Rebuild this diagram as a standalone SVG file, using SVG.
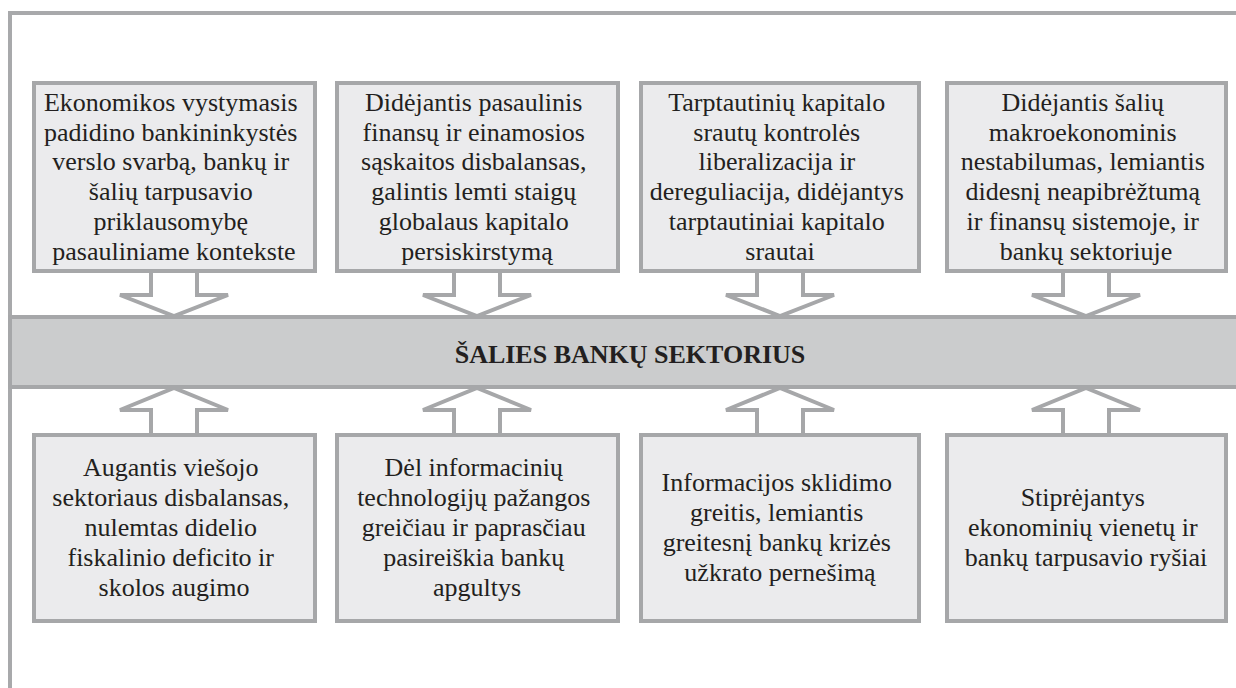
<svg xmlns="http://www.w3.org/2000/svg" width="1236" height="688" viewBox="0 0 1236 688">
  <style>
    .frame { fill: none; stroke: #a8a9ab; stroke-width: 4; }
    .box { fill: #ebebed; stroke: #a6a7a9; stroke-width: 4; }
    .band { fill: #cbcccd; stroke: #a6a7a9; stroke-width: 4; }
    .arrow { fill: #ffffff; stroke: #a6a7a9; stroke-width: 4; stroke-linejoin: miter; }
    .t { font-family: "Liberation Serif", "Times New Roman", serif; font-size: 26px; fill: #231f20; text-anchor: middle; }
    .title { font-family: "Liberation Serif", "Times New Roman", serif; font-size: 26px; font-weight: bold; fill: #231f20; text-anchor: middle; }
  </style>

  <rect width="1236" height="688" fill="#ffffff"/>
  <!-- outer frame, open past the right and bottom edges -->
  <rect class="frame" x="10" y="13" width="1300" height="720"/>

  <!-- hollow block arrows -->
  <g id="connectors">
    <polyline class="arrow" points="151,270 151,295 120,295 174,316 228,295 197,295 197,270"/>
    <polyline class="arrow" points="454,270 454,295 423,295 477,316 531,295 500,295 500,270"/>
    <polyline class="arrow" points="757,270 757,295 726,295 780,316 834,295 803,295 803,270"/>
    <polyline class="arrow" points="1063,270 1063,295 1032,295 1086,316 1140,295 1109,295 1109,270"/>

    <polyline class="arrow" points="151,436 151,410 120,410 174,388 228,410 197,410 197,436"/>
    <polyline class="arrow" points="454,436 454,410 423,410 477,388 531,410 500,410 500,436"/>
    <polyline class="arrow" points="757,436 757,410 726,410 780,388 834,410 803,410 803,436"/>
    <polyline class="arrow" points="1063,436 1063,410 1032,410 1086,388 1140,410 1109,410 1109,436"/>
  </g>

  <g id="sector">
    <rect class="band" x="10" y="317" width="1240" height="70"/>
    <text class="title" x="630" y="363">ŠALIES BANKŲ SEKTORIUS</text>
  </g>

  <g id="factor-1">
    <rect class="box" x="34" y="83" width="281" height="188"/>
    <text class="t" x="174" y="111">
      <tspan x="174">Ekonomikos vystymasis</tspan>
      <tspan x="174" dy="29.7">padidino bankininkystės</tspan>
      <tspan x="174" dy="29.7">verslo svarbą, bankų ir</tspan>
      <tspan x="174" dy="29.7">šalių tarpusavio</tspan>
      <tspan x="174" dy="29.7">priklausomybę</tspan>
      <tspan x="174" dy="29.7">pasauliniame kontekste</tspan>
    </text>
  </g>

  <g id="factor-2">
    <rect class="box" x="337" y="83" width="281" height="188"/>
    <text class="t" x="477" y="111">
      <tspan x="477">Didėjantis pasaulinis</tspan>
      <tspan x="477" dy="29.7">finansų ir einamosios</tspan>
      <tspan x="477" dy="29.7">sąskaitos disbalansas,</tspan>
      <tspan x="477" dy="29.7">galintis lemti staigų</tspan>
      <tspan x="477" dy="29.7">globalaus kapitalo</tspan>
      <tspan x="477" dy="29.7">persiskirstymą</tspan>
    </text>
  </g>

  <g id="factor-3">
    <rect class="box" x="641" y="83" width="278" height="188"/>
    <text class="t" x="780" y="111">
      <tspan x="780">Tarptautinių kapitalo</tspan>
      <tspan x="780" dy="29.7">srautų kontrolės</tspan>
      <tspan x="780" dy="29.7">liberalizacija ir</tspan>
      <tspan x="780" dy="29.7">dereguliacija, didėjantys</tspan>
      <tspan x="780" dy="29.7">tarptautiniai kapitalo</tspan>
      <tspan x="780" dy="29.7">srautai</tspan>
    </text>
  </g>

  <g id="factor-4">
    <rect class="box" x="947" y="83" width="279" height="188"/>
    <text class="t" x="1086" y="111">
      <tspan x="1086">Didėjantis šalių</tspan>
      <tspan x="1086" dy="29.7">makroekonominis</tspan>
      <tspan x="1086" dy="29.7">nestabilumas, lemiantis</tspan>
      <tspan x="1086" dy="29.7">didesnį neapibrėžtumą</tspan>
      <tspan x="1086" dy="29.7">ir finansų sistemoje, ir</tspan>
      <tspan x="1086" dy="29.7">bankų sektoriuje</tspan>
    </text>
  </g>

  <g id="factor-5">
    <rect class="box" x="34" y="435" width="281" height="186"/>
    <text class="t" x="174" y="476">
      <tspan x="174">Augantis viešojo</tspan>
      <tspan x="174" dy="30">sektoriaus disbalansas,</tspan>
      <tspan x="174" dy="30">nulemtas didelio</tspan>
      <tspan x="174" dy="30">fiskalinio deficito ir</tspan>
      <tspan x="174" dy="30">skolos augimo</tspan>
    </text>
  </g>

  <g id="factor-6">
    <rect class="box" x="337" y="435" width="281" height="186"/>
    <text class="t" x="477" y="476">
      <tspan x="477">Dėl informacinių</tspan>
      <tspan x="477" dy="30">technologijų pažangos</tspan>
      <tspan x="477" dy="30">greičiau ir paprasčiau</tspan>
      <tspan x="477" dy="30">pasireiškia bankų</tspan>
      <tspan x="477" dy="30">apgultys</tspan>
    </text>
  </g>

  <g id="factor-7">
    <rect class="box" x="641" y="435" width="278" height="186"/>
    <text class="t" x="780" y="491">
      <tspan x="780">Informacijos sklidimo</tspan>
      <tspan x="780" dy="30">greitis, lemiantis</tspan>
      <tspan x="780" dy="30">greitesnį bankų krizės</tspan>
      <tspan x="780" dy="30">užkrato pernešimą</tspan>
    </text>
  </g>

  <g id="factor-8">
    <rect class="box" x="947" y="435" width="279" height="186"/>
    <text class="t" x="1086" y="506">
      <tspan x="1086">Stiprėjantys</tspan>
      <tspan x="1086" dy="30">ekonominių vienetų ir</tspan>
      <tspan x="1086" dy="30">bankų tarpusavio ryšiai</tspan>
    </text>
  </g>
</svg>
